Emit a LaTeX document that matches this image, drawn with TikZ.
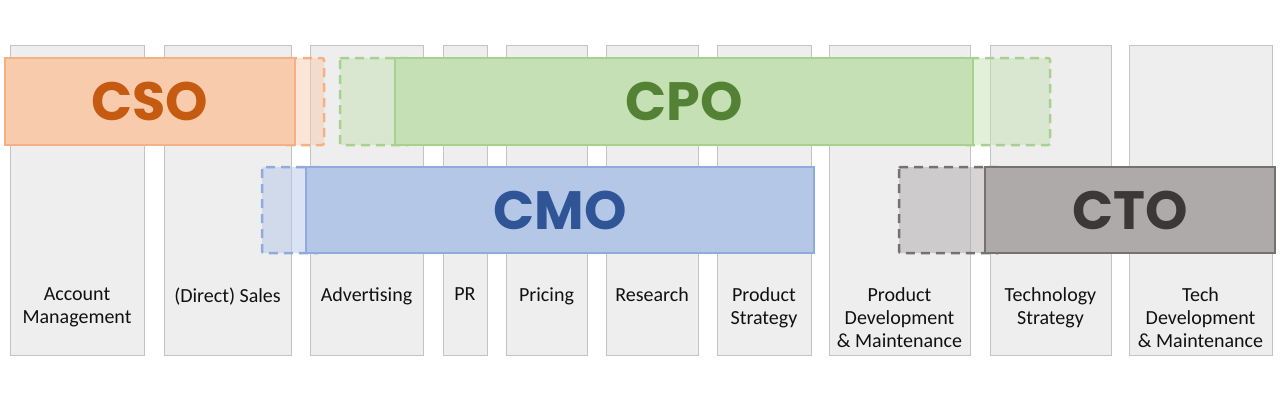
\documentclass[tikz,border=0pt]{standalone}
\usepackage{fontspec}
\setmainfont{Carlito}
\newfontfamily\rolefont{Poppins}

\definecolor{colfill}{HTML}{EEEEEE}
\definecolor{colline}{HTML}{C4C4C4}
\definecolor{coltext}{HTML}{111111}
\definecolor{csofill}{HTML}{F8CBAD}
\definecolor{csoline}{HTML}{F4B183}
\definecolor{csotext}{HTML}{C55A11}
\definecolor{cpofill}{HTML}{C5E0B4}
\definecolor{cpoline}{HTML}{A9D18E}
\definecolor{cpotext}{HTML}{548235}
\definecolor{cmofill}{HTML}{B4C7E7}
\definecolor{cmoline}{HTML}{8FAADC}
\definecolor{cmotext}{HTML}{2F5597}
\definecolor{ctofill}{HTML}{AEAAAA}
\definecolor{ctoline}{HTML}{767171}
\definecolor{ctotext}{HTML}{3B3838}

\begin{document}
\begin{tikzpicture}[x=1pt,y=-1pt]

    % Define some common styles
    \tikzset{
        column/.style={draw=colline, fill=colfill, line width=1pt},
        collabel/.style={anchor=north, align=center, inner sep=0pt,
            font=\fontsize{20}{23}\selectfont, text=coltext},
        rolebox/.style={line width=2.5pt},
        rolepart/.style={line width=2.5pt, dash pattern=on 9pt off 6pt,
            rounded corners=2pt, fill opacity=0.5},
        rolelabel/.style={inner sep=0pt,
            font=\rolefont\bfseries\fontsize{54}{54}\selectfont}
    }

    % Keep the page at the size of the reference
    \useasboundingbox (0,0) rectangle (1280,400);

    % Draw the function columns with their names
    \foreach \l/\r/\id/\txt in {
        10/144/acct/{Account\\Management},
        164/291/sales/{(Direct) Sales},
        310/423/adv/{Advertising},
        443/487/pr/{PR},
        506/587/pricing/{Pricing},
        606/698/research/{Research},
        717/811/pstrat/{Product\\Strategy},
        829/970/pdev/{Product\\Development\\\& Maintenance},
        990/1111/tstrat/{Technology\\Strategy},
        1129/1272/tdev/{Tech\\Development\\\& Maintenance}}{
        \draw[column] (\l,45) rectangle (\r,355);
        \node[collabel] (\id) at ({(\l+\r)/2},287.5) {\txt};
    }

    % CSO (dashed part sticks out to the right)
    \draw[rolepart, draw=csoline, fill=csofill] (280,58) rectangle (324,145);
    \draw[rolebox, draw=csoline, fill=csofill] (5,58) rectangle (295,145);
    \node[rolelabel, text=csotext] (cso) at (150,101) {CSO};

    % CPO (dashed on both sides)
    \draw[rolepart, draw=cpoline, fill=cpofill] (340,58) rectangle (410,145);
    \draw[rolepart, draw=cpoline, fill=cpofill] (960,58) rectangle (1050,145);
    \draw[rolebox, draw=cpoline, fill=cpofill] (395,58) rectangle (973,145);
    \node[rolelabel, text=cpotext] (cpo) at (684,101) {CPO};

    % CMO (dashed part to the left)
    \draw[rolepart, draw=cmoline, fill=cmofill] (262,167) rectangle (320,253);
    \draw[rolebox, draw=cmoline, fill=cmofill] (306,167) rectangle (814,253);
    \node[rolelabel, text=cmotext] (cmo) at (560,210) {CMO};

    % CTO (dashed part to the left)
    \draw[rolepart, draw=ctoline, fill=ctofill] (899,167) rectangle (1000,253);
    \draw[rolebox, draw=ctoline, fill=ctofill] (985,167) rectangle (1275,253);
    \node[rolelabel, text=ctotext] (cto) at (1130,210) {CTO};

\end{tikzpicture}
\end{document}
